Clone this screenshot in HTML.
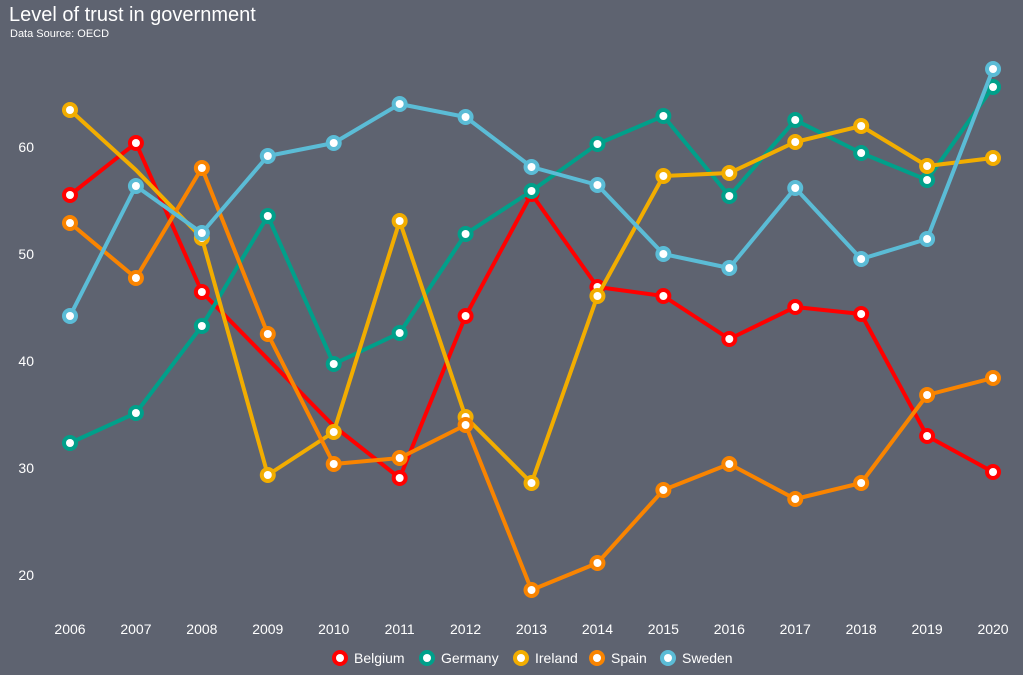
<!DOCTYPE html>
<html><head><meta charset="utf-8"><style>
html,body{margin:0;padding:0;background:#5e6370;}
svg{display:block;font-family:"Liberation Sans",Arial,sans-serif;}
</style></head><body>
<svg width="1023" height="675" viewBox="0 0 1023 675">
<rect width="1023" height="675" fill="#5e6370"/>
<text x="9" y="21" font-size="20" fill="#fff">Level of trust in government</text>
<text x="10" y="37" font-size="11" fill="#fff">Data Source: OECD</text>
<g font-size="14" fill="#fff" text-anchor="end">
<text x="34" y="152">60</text><text x="34" y="259">50</text><text x="34" y="366">40</text><text x="34" y="473">30</text><text x="34" y="580">20</text>
</g>
<g font-size="14" fill="#fff" text-anchor="middle" id="xl"></g>
<g id="plot" fill="none" stroke-width="4" stroke-linejoin="round"></g>
<g font-size="14" fill="#fff">
<circle cx="340" cy="658" r="8" fill="#ff0000"/><circle cx="340" cy="658" r="4" fill="#fff"/><text x="354" y="663">Belgium</text>
<circle cx="427" cy="658" r="8" fill="#00a08a"/><circle cx="427" cy="658" r="4" fill="#fff"/><text x="441" y="663">Germany</text>
<circle cx="521" cy="658" r="8" fill="#f2ad00"/><circle cx="521" cy="658" r="4" fill="#fff"/><text x="535" y="663">Ireland</text>
<circle cx="597" cy="658" r="8" fill="#f98400"/><circle cx="597" cy="658" r="4" fill="#fff"/><text x="611" y="663">Spain</text>
<circle cx="668" cy="658" r="8" fill="#5bbcd6"/><circle cx="668" cy="658" r="4" fill="#fff"/><text x="682" y="663">Sweden</text>
</g>
</svg>
<script>
var X=i=>70+i*65.93;
var xl=document.getElementById('xl'),p=document.getElementById('plot'),ns='http://www.w3.org/2000/svg';
for(var i=0;i<15;i++){var t=document.createElementNS(ns,'text');t.setAttribute('x',X(i));t.setAttribute('y',634);t.textContent=2006+i;xl.appendChild(t);}
var S=[
['#ff0000',[195,143,292,null,426,478,316,194,287,296,339,307,314,436,472],[1,1,1,0,0,1,1,1,1,1,1,1,1,1,1]],
['#00a08a',[443,413,326,216,364,333,234,191,144,116,196,120,153,180,87]],
['#f2ad00',[110,170,238,475,432,221,417,483,296,176,173,142,126,166,158],[1,0,1,1,1,1,1,1,1,1,1,1,1,1,1]],
['#f98400',[223,278,168,334,464,458,425,590,563,490,464,499,483,395,378]],
['#5bbcd6',[316,186,233,156,143,104,117,167,185,254,268,188,259,239,69]]];
S.forEach(s=>{var pts=[];s[1].forEach((y,i)=>{if(y!=null)pts.push(X(i)+','+y)});
var l=document.createElementNS(ns,'polyline');l.setAttribute('points',pts.join(' '));l.setAttribute('stroke',s[0]);p.appendChild(l);
s[1].forEach((y,i)=>{if(y==null||(s[2]&&!s[2][i]))return;
var c=document.createElementNS(ns,'circle');c.setAttribute('cx',X(i));c.setAttribute('cy',y);c.setAttribute('r',8);c.setAttribute('fill',s[0]);c.setAttribute('stroke','none');p.appendChild(c);
c=document.createElementNS(ns,'circle');c.setAttribute('cx',X(i));c.setAttribute('cy',y);c.setAttribute('r',4);c.setAttribute('fill','#fff');c.setAttribute('stroke','none');p.appendChild(c);});});
</script>
</body></html>
